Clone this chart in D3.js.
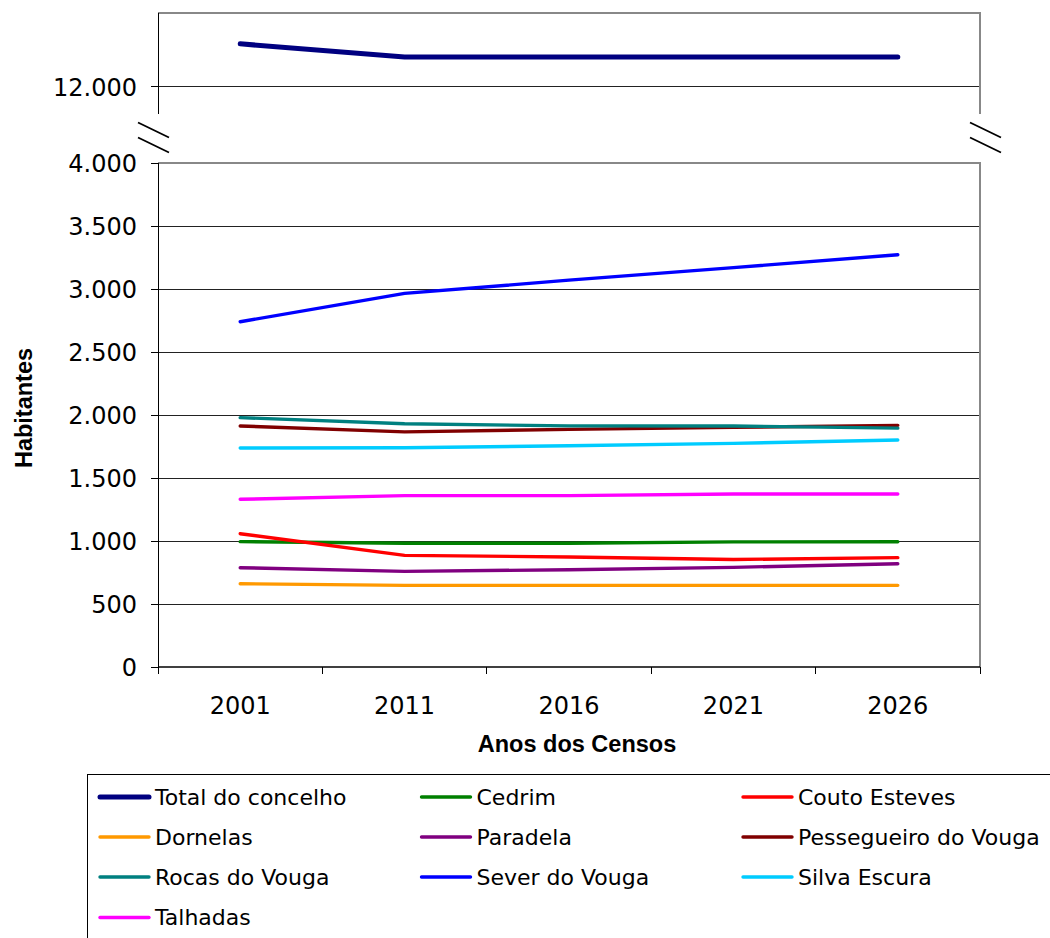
<!DOCTYPE html>
<html>
<head>
<meta charset="utf-8">
<script src="https://cdn.jsdelivr.net/npm/d3@7"></script>
<style>
  body { margin: 0; background: #fff; }
  svg { display: block; }
  .tick text { font-family: "DejaVu Sans", Verdana, sans-serif; font-size: 24px; fill: #000; }
  .tick line, .grid line, .domain, .sep { shape-rendering: crispEdges; }
  .axis-title { font-family: "Liberation Sans", Arial, sans-serif; font-weight: bold; font-size: 23.5px; fill: #000; }
  .legend text { font-family: "DejaVu Sans", Verdana, sans-serif; font-size: 22px; fill: #000; }
</style>
</head>
<body>
<div id="chart"></div>
<script>
// census years (categories)
var years = ["2001", "2011", "2016", "2021", "2026"];

// series values
var totalConcelho = [13160, 12800, 12800, 12800, 12800];
var cedrim = [995, 982, 982, 993, 994];
var coutoEsteves = [1058, 886, 873, 853, 868];
var dornelas = [661, 648, 648, 648, 648];
var paradela = [788, 759, 772, 791, 820];
var pessegueiro = [1913, 1866, 1886, 1902, 1918];
var rocasVouga = [1979, 1930, 1914, 1913, 1896];
var severVouga = [2740, 2965, 3070, 3170, 3272];
var silvaEscura = [1738, 1740, 1756, 1775, 1802];
var talhadas = [1331, 1360, 1360, 1373, 1373];

var seriesNames = ["Total do concelho", "Cedrim", "Couto Esteves", "Dornelas", "Paradela",
    "Pessegueiro do Vouga", "Rocas do Vouga", "Sever do Vouga", "Silva Escura", "Talhadas"];
var seriesColors = ["#000080", "#008000", "#ff0000", "#ff9900", "#800080",
    "#800000", "#008080", "#0000ff", "#00ccff", "#ff00ff"];

var bottomTicks = [0, 500, 1000, 1500, 2000, 2500, 3000, 3500, 4000];
var topTicks = [12000];

var series = [totalConcelho, cedrim, coutoEsteves, dornelas, paradela,
    pessegueiro, rocasVouga, severVouga, silvaEscura, talhadas].map(function(v, i) {
    return { name: seriesNames[i], color: seriesColors[i], values: v, total: i == 0 };
});

var width = 1050, height = 938;
var left = 158, right = 980;

var svg = d3.select("#chart")
    .append("svg")
    .attr("width", width)
    .attr("height", height);

var pt = d3.formatLocale({ decimal: ",", thousands: ".", grouping: [3], currency: ["", ""] });
var fmt = pt.format(",");

var x = d3.scaleBand()
    .domain(years)
    .range([left, right])
    .padding(0);

// upper panel (total) and lower panel (parishes)
var yTop = d3.scaleLinear().domain([11250, 14000]).range([114, 13]);
var yBot = d3.scaleLinear().domain([0, 4000]).range([667, 163]);

// gridlines
svg.append("g")
    .attr("class", "grid")
    .selectAll("line")
    .data(bottomTicks.filter(function(d) { return d > 0 && d < 4000; }))
    .enter().append("line")
    .attr("x1", left).attr("x2", right)
    .attr("y1", function(d) { return yBot(d); })
    .attr("y2", function(d) { return yBot(d); })
    .attr("stroke", "#222").attr("stroke-width", 1);

svg.append("g")
    .attr("class", "grid")
    .selectAll("line")
    .data(topTicks)
    .enter().append("line")
    .attr("x1", left).attr("x2", right)
    .attr("y1", function(d) { return yTop(d); })
    .attr("y2", function(d) { return yTop(d); })
    .attr("stroke", "#222").attr("stroke-width", 1);

// gray plot borders (top and right)
function border(y0, y1) {
    svg.append("path")
        .attr("d", "M" + left + "," + y0 + "H" + right + "V" + y1)
        .attr("fill", "none")
        .attr("stroke", "#888")
        .attr("stroke-width", 2);
}
border(yBot(4000), yBot(0));
border(13, 114);

// y axes
svg.append("g")
    .attr("transform", "translate(" + left + ",0)")
    .call(d3.axisLeft(yBot).tickValues(bottomTicks).tickFormat(fmt).tickSize(7).tickPadding(14))
    .call(function(g) { g.select(".domain").attr("stroke", "#000").attr("d", "M0," + yBot(4000) + "V" + yBot(0)); })
    .call(function(g) { g.selectAll(".tick line").attr("stroke", "#000"); })
    .call(function(g) { g.selectAll(".tick text").attr("dy", "0.36em"); });

svg.append("g")
    .attr("transform", "translate(" + left + ",0)")
    .call(d3.axisLeft(yTop).tickValues(topTicks).tickFormat(fmt).tickSize(7).tickPadding(14))
    .call(function(g) { g.select(".domain").attr("stroke", "#000").attr("d", "M0,13V114"); })
    .call(function(g) { g.selectAll(".tick line").attr("stroke", "#000"); })
    .call(function(g) { g.selectAll(".tick text").attr("dy", "0.36em"); });

// x axis with ticks between categories
var xAxis = svg.append("g")
    .attr("transform", "translate(0," + yBot(0) + ")");
xAxis.append("line")
    .attr("x1", left).attr("x2", right)
    .attr("stroke", "#000").attr("stroke-width", 1.5);
xAxis.selectAll(".sep")
    .data(years.concat(["end"]))
    .enter().append("line")
    .attr("class", "sep")
    .attr("x1", function(d, i) { return i < years.length ? x(d) : right; })
    .attr("x2", function(d, i) { return i < years.length ? x(d) : right; })
    .attr("y1", 0).attr("y2", 7)
    .attr("stroke", "#000");
xAxis.selectAll(".lbl")
    .data(years)
    .enter().append("text")
    .attr("class", "lbl")
    .attr("x", function(d) { return x(d) + x.bandwidth() / 2; })
    .attr("y", 47)
    .attr("text-anchor", "middle")
    .style("font-family", "'DejaVu Sans', Verdana, sans-serif")
    .style("font-size", "24px")
    .text(function(d) { return d; });

// axis break marks
[[138, 169], [970, 1001]].forEach(function(p) {
    [[122.5, 137.5], [137.5, 152.5]].forEach(function(q) {
        svg.append("line")
            .attr("x1", p[0]).attr("y1", q[0])
            .attr("x2", p[1]).attr("y2", q[1])
            .attr("stroke", "#000").attr("stroke-width", 1.8);
    });
});

// lines
var lineBot = d3.line()
    .x(function(d, i) { return x(years[i]) + x.bandwidth() / 2; })
    .y(function(d) { return yBot(d); });
var lineTop = d3.line()
    .x(function(d, i) { return x(years[i]) + x.bandwidth() / 2; })
    .y(function(d) { return yTop(d); });

svg.append("g")
    .selectAll("path")
    .data(series)
    .enter().append("path")
    .attr("d", function(s) { return s.total ? lineTop(s.values) : lineBot(s.values); })
    .attr("fill", "none")
    .attr("stroke", function(s) { return s.color; })
    .attr("stroke-width", function(s) { return s.total ? 5 : 3.4; })
    .attr("stroke-linecap", "round")
    .attr("stroke-linejoin", "round");

// axis titles
svg.append("text")
    .attr("class", "axis-title")
    .attr("transform", "translate(32,408) rotate(-90)")
    .attr("text-anchor", "middle")
    .text("Habitantes");

svg.append("text")
    .attr("class", "axis-title")
    .attr("x", 577)
    .attr("y", 752)
    .attr("text-anchor", "middle")
    .text("Anos dos Censos");

// legend
var legend = svg.append("g").attr("class", "legend");
legend.append("rect")
    .attr("x", 87.5).attr("y", 774.5)
    .attr("width", 1000).attr("height", 200)
    .attr("fill", "#fff")
    .attr("stroke", "#000").attr("stroke-width", 1);

var colX = [100, 421.5, 743], rowY = [797, 837, 877, 917.5];
var item = legend.selectAll(".item")
    .data(series)
    .enter().append("g")
    .attr("class", "item")
    .attr("transform", function(d, i) {
        return "translate(" + colX[i % 3] + "," + rowY[Math.floor(i / 3)] + ")";
    });
item.append("line")
    .attr("x1", 0).attr("x2", 49)
    .attr("stroke", function(d) { return d.color; })
    .attr("stroke-width", function(d) { return d.total ? 5 : 3.4; })
    .attr("stroke-linecap", "round");
item.append("text")
    .attr("x", 55)
    .attr("dy", "0.36em")
    .text(function(d) { return d.name; });
</script>
</body>
</html>
